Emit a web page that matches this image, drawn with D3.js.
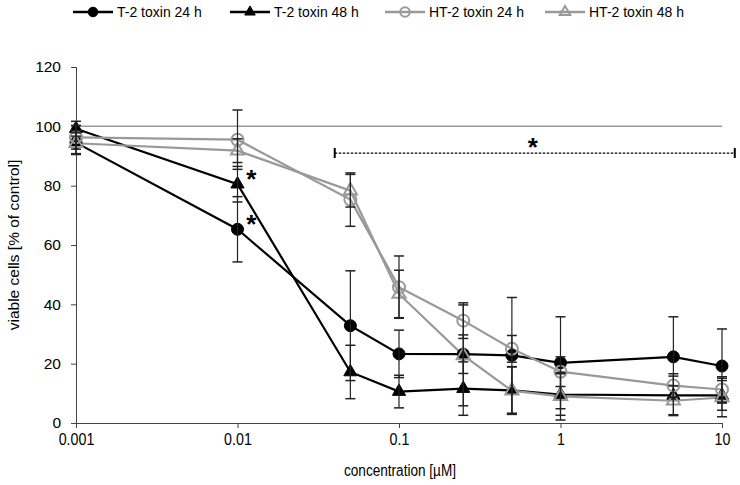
<!DOCTYPE html>
<html>
<head>
<meta charset="utf-8">
<script src="https://cdn.jsdelivr.net/npm/d3@7"></script>
<style>
  body { margin: 0; background: #fff; }
  svg { display: block; }
</style>
</head>
<body>
<svg id="chart" width="740" height="485"></svg>
<script>
const concentrations = [0.001, 0.01, 0.05, 0.1, 0.25, 0.5, 1, 5, 10];
const seriesNames = ["T-2 toxin 24 h", "T-2 toxin 48 h", "HT-2 toxin 24 h", "HT-2 toxin 48 h"];
const t2_24 = [94.5, 65.3, 32.8, 23.3, 23.2, 22.8, 20.3, 22.3, 19.2];
const t2_24_sd = [4, 11, 18.5, 8, 6.5, 19.5, 15.5, 13.5, 12.5];
const t2_48 = [99.2, 80.5, 17.2, 10.6, 11.6, 11.0, 9.6, 9.3, 9.3];
const t2_48_sd = [2.5, 6, 9, 5.5, 9, 8, 7, 6.5, 5];
const ht2_24 = [96.3, 95.5, 75.3, 45.8, 34.5, 25.0, 17.3, 12.6, 11.3];
const ht2_24_sd = [4, 10, 9, 10.5, 6, 4.5, 5, 4, 4.3];
const ht2_48 = [94.3, 91.8, 78.3, 43.5, 22.8, 10.9, 9.0, 7.5, 8.6];
const ht2_48_sd = [3.5, 4, 5.5, 8, 17, 8, 8, 5, 6.5];
const yTicks = [0, 20, 40, 60, 80, 100, 120];
const xTicks = [0.001, 0.01, 0.1, 1, 10];
const xTickLabels = ["0.001", "0.01", "0.1", "1", "10"];
const controlLevel = 100;
const sigRange = [0.04, 12];
const sigLevel = 91;
const sigStarsAt = [[0.0115, 80.5], [0.0115, 65.3]];

const series = [
  {name: seriesNames[0], values: t2_24, sd: t2_24_sd, color: "#000", fill: "#000", shape: "circle"},
  {name: seriesNames[1], values: t2_48, sd: t2_48_sd, color: "#000", fill: "#000", shape: "triangle"},
  {name: seriesNames[2], values: ht2_24, sd: ht2_24_sd, color: "#999", fill: "#fff", shape: "circle"},
  {name: seriesNames[3], values: ht2_48, sd: ht2_48_sd, color: "#999", fill: "#fff", shape: "triangle"}
];

const svg = d3.select("#chart");
const x = d3.scaleLog().domain([0.001, 10]).range([76, 722]);
const y = d3.scaleLinear().domain([0, 120]).range([423, 67]);

const fontMain = "'Liberation Sans', Arial, sans-serif";

// control line
svg.append("line")
  .attr("x1", x(0.001)).attr("x2", x(10))
  .attr("y1", y(controlLevel)).attr("y2", y(controlLevel))
  .attr("stroke", "#999").attr("stroke-width", 1.5);

// axes
const yAxis = svg.append("g").attr("transform", `translate(${x(0.001)},0)`)
  .call(d3.axisLeft(y).tickValues(yTicks).tickSize(5).tickPadding(10));
yAxis.select(".domain").attr("stroke", "#444");
yAxis.selectAll(".tick line").attr("stroke", "#444");
yAxis.selectAll("text").attr("font-family", fontMain).attr("font-size", 15.5).attr("fill", "#000");

const xAxis = svg.append("g").attr("transform", `translate(0,${y(0)})`)
  .call(d3.axisBottom(x).tickValues(xTicks).tickFormat((d, i) => xTickLabels[i]).tickSize(5).tickSizeOuter(0).tickPadding(5));
xAxis.select(".domain").attr("stroke", "#444");
xAxis.selectAll(".tick line").attr("stroke", "#444");
xAxis.selectAll("text").attr("font-family", fontMain).attr("font-size", 17).attr("fill", "#000")
  .attr("transform", "scale(0.84,1)");

// axis titles
svg.append("g").attr("transform", "translate(400,476) scale(0.8,1)")
  .append("text").attr("text-anchor", "middle")
  .attr("font-family", fontMain).attr("font-size", 17).text("concentration [µM]");
svg.append("text").attr("transform", "translate(19,245) rotate(-90)").attr("text-anchor", "middle")
  .attr("font-family", fontMain).attr("font-size", 15.5).text("viable cells [% of control]");

// lines
const lineGen = d3.line().x((d, i) => x(concentrations[i])).y(d => y(d));
series.forEach(s => {
  svg.append("path").datum(s.values).attr("d", lineGen)
    .attr("fill", "none").attr("stroke", s.color).attr("stroke-width", 2.2);
});

function marker(g, s, cx, cy, scale) {
  scale = scale || 1;
  if (s.shape === "circle") {
    g.append("circle").attr("cx", cx).attr("cy", cy).attr("r", 6 * scale)
      .attr("fill", s.fill).attr("stroke", s.color).attr("stroke-width", s.fill === "#fff" ? 2 : 1)
      .attr("fill-opacity", s.fill === "#fff" ? 0 : 1);
  } else {
    const sym = d3.symbol().type(d3.symbolTriangle).size(75 * scale * scale);
    g.append("path").attr("d", sym()).attr("transform", `translate(${cx},${cy})`)
      .attr("fill", s.fill).attr("stroke", s.color).attr("stroke-width", s.fill === "#fff" ? 2 : 1)
      .attr("fill-opacity", s.fill === "#fff" ? 0 : 1);
  }
}

// markers
series.forEach(s => {
  const g = svg.append("g");
  s.values.forEach((v, i) => marker(g, s, x(concentrations[i]), y(v)));
});

// error bars
series.forEach(s => {
  const g = svg.append("g");
  s.values.forEach((v, i) => {
    const cx = x(concentrations[i]);
    const y1 = y(v + s.sd[i]), y2 = y(v - s.sd[i]);
    g.append("line").attr("x1", cx).attr("x2", cx).attr("y1", y1).attr("y2", y2)
      .attr("stroke", "#222").attr("stroke-width", 1.2);
    [y1, y2].forEach(yy => g.append("line").attr("x1", cx - 5).attr("x2", cx + 5)
      .attr("y1", yy).attr("y2", yy).attr("stroke", "#222").attr("stroke-width", 1.5));
  });
});

// significance bracket
const sy = y(sigLevel);
svg.append("line").attr("x1", x(sigRange[0])).attr("x2", x(sigRange[1])).attr("y1", sy).attr("y2", sy)
  .attr("stroke", "#000").attr("stroke-width", 1.2).attr("stroke-dasharray", "2.5,1.5");
[sigRange[0], sigRange[1]].forEach(c => svg.append("line")
  .attr("x1", x(c)).attr("x2", x(c)).attr("y1", sy - 5).attr("y2", sy + 5)
  .attr("stroke", "#000").attr("stroke-width", 2));
svg.append("text").attr("x", (x(sigRange[0]) + x(sigRange[1])) / 2 - 2).attr("y", sy + 3)
  .attr("text-anchor", "middle").attr("font-family", fontMain).attr("font-weight", "bold")
  .attr("font-size", 26).text("*");
sigStarsAt.forEach(p => svg.append("text").attr("x", x(p[0]) - 1).attr("y", y(p[1]) + 4)
  .attr("font-family", fontMain).attr("font-weight", "bold").attr("font-size", 26).text("*"));

// legend
const legendX = [73, 230, 385, 545];
const legend = svg.append("g");
series.forEach((s, i) => {
  const lx = legendX[i], ly = 12;
  legend.append("line").attr("x1", lx).attr("x2", lx + 40).attr("y1", ly).attr("y2", ly)
    .attr("stroke", s.color).attr("stroke-width", 2.5);
  marker(legend, s, lx + 20, ly, 0.8);
  legend.append("text").attr("x", lx + 44).attr("y", ly + 5)
    .attr("font-family", fontMain).attr("font-size", 14).text(s.name);
});
</script>
</body>
</html>
